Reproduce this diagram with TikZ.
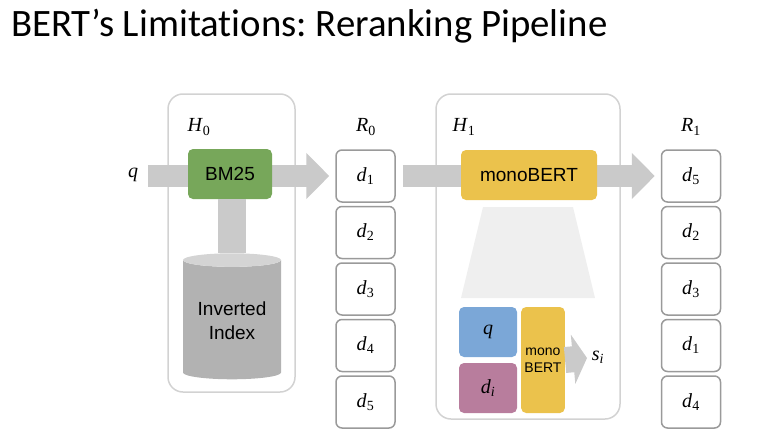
\documentclass[tikz,border=0pt]{standalone}
\usepackage{fontspec}
\setmainfont{Liberation Serif}
\setsansfont{Liberation Sans}
\newfontfamily\titlefont[Ligatures={NoCommon}]{Carlito}
\usetikzlibrary{arrows.meta,shapes.geometric}

\definecolor{bandgray}{HTML}{CACACA}
\definecolor{framegray}{HTML}{D2D2D2}
\definecolor{docgray}{HTML}{9A9A9A}
\definecolor{bmgreen}{HTML}{77A75A}
\definecolor{bertyellow}{HTML}{EBC24C}
\definecolor{qblue}{HTML}{7BA7D7}
\definecolor{dpink}{HTML}{B87D9D}
\definecolor{funnelgray}{HTML}{EFEFEF}

\newcommand{\ds}[2]{\textit{#1}\textsubscript{#2}}

\tikzset{
  stage/.style={draw=framegray, line width=1.5pt, rounded corners=15pt},
  doc/.style={draw=docgray, line width=1.5pt, rounded corners=6pt, fill=white,
    minimum width=59pt, minimum height=52pt, font=\fontsize{20}{20}\selectfont},
  model/.style={rounded corners=5pt, font=\sffamily\fontsize{19}{20}\selectfont},
  band/.style={draw=bandgray, line width=22pt, -{Triangle[width=45pt,length=23pt]}},
  lbl/.style={font=\fontsize{20}{20}\selectfont}
}

\begin{document}
\frenchspacing
\begin{tikzpicture}[x=1pt,y=-1pt]
  \useasboundingbox (0,0) rectangle (778,444);

  \node[anchor=base west, inner sep=0pt, font=\titlefont\fontsize{38.8}{39}\selectfont] (title) at (11,37)
    {BERT’s Limitations: Reranking Pipeline};

  % first stage
  \node[stage, minimum width=127pt, minimum height=298pt] (hzero) at (231.5,243) {};
  \node[lbl] (hzerolab) at (199,127) {\ds{H}{0}};
  \node[lbl] (qin) at (133,175) {\textit{q}};
  \coordinate (bandstart) at (148,176);

  % candidate lists
  \node[lbl] (rzerolab) at (366,127) {\ds{R}{0}};
  \node[lbl] (ronelab) at (691,127) {\ds{R}{1}};
  \foreach \i/\n in {1/1,2/2,3/3,4/4,5/5}
    \node[doc] (r0-\i) at (365.5,{176+56.5*(\i-1)}) {\ds{d}{\n}};
  \foreach \i/\n in {1/5,2/2,3/3,4/1,5/4}
    \node[doc] (r1-\i) at (691,{176+56.5*(\i-1)}) {\ds{d}{\n}};

  \draw[band, shorten >=6pt] (bandstart) -- (r0-1.west);

  \node[cylinder, shape border rotate=90, aspect=0.18, minimum width=98pt, minimum height=126pt,
    cylinder uses custom fill, cylinder body fill=black!30, cylinder end fill=black!17,
    align=center, font=\sffamily\fontsize{19}{24}\selectfont] (index) at (232,321) {Inverted\\Index};
  \node[model, fill=bmgreen, minimum width=84pt, minimum height=50pt] (bm) at (230,174) {BM25};
  \draw[bandgray, line width=28pt] (index.north |- bm.south) -- (index.north);

  % second stage
  \node[stage, minimum width=184pt, minimum height=325pt] (hone) at (528,256.5) {};
  \node[lbl] (honelab) at (464,127) {\ds{H}{1}};
  \draw[band, shorten <=7pt, shorten >=6pt] (r0-1.east) -- (r1-1.west);
  \node[model, fill=bertyellow, minimum width=136pt, minimum height=50pt] (mono) at (529,175) {monoBERT};

  \fill[funnelgray] (483,207) -- (573,207) -- (595,298) -- (461,298) -- cycle;

  \node[model, fill=qblue, minimum width=58pt, minimum height=50pt, font=\fontsize{20}{20}\selectfont] (qsmall) at (488,332) {\textit{q}};
  \node[model, fill=dpink, minimum width=58pt, minimum height=50pt, font=\fontsize{20}{20}\selectfont] (dsmall) at (488,388) {\ds{d}{\textit{i}}};
  \node[model, fill=bertyellow, minimum width=40pt, minimum height=106pt, align=center,
    font=\sffamily\fontsize{14}{17}\selectfont] (monosmall) at (543,360) {mono\\BERT};
  \node[lbl] (score) at (598,357) {\ds{s}{\textit{i}}};
  \draw[draw=bandgray, line width=26pt, -{Triangle[width=49pt,length=14pt]}] (monosmall.east) -- (587,358);
\end{tikzpicture}
\end{document}
